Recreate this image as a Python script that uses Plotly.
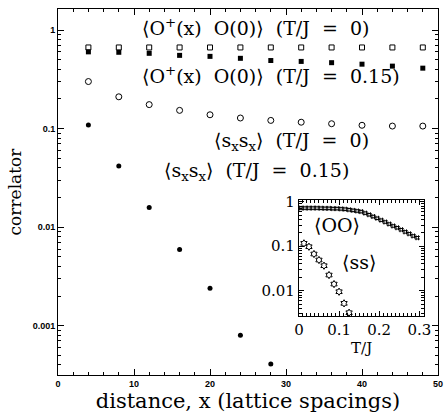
import plotly.graph_objects as go

# Main panel data
x_dist = [4, 8, 12, 16, 20, 24, 28, 32, 36, 40, 44, 48]
oo_T0 = [0.665, 0.665, 0.665, 0.665, 0.665, 0.665, 0.665, 0.665, 0.665, 0.665, 0.665, 0.665]
oo_T015 = [0.60, 0.594, 0.58, 0.553, 0.54, 0.516, 0.49, 0.48, 0.466, 0.45, 0.43, 0.41]
ss_T0 = [0.30, 0.21, 0.175, 0.153, 0.138, 0.128, 0.121, 0.116, 0.112, 0.108, 0.106, 0.106]
x_ss015 = [4, 8, 12, 16, 20, 24, 28]
ss_T015 = [0.109, 0.0416, 0.0158, 0.00594, 0.0024, 0.00080, 0.00041]

# Inset data
T_oo = [0.005, 0.015, 0.025, 0.035, 0.045, 0.055, 0.065, 0.075, 0.085, 0.095,
        0.105, 0.115, 0.125, 0.135, 0.145, 0.155, 0.165, 0.175, 0.185, 0.195,
        0.205, 0.215, 0.225, 0.235, 0.245, 0.255, 0.265, 0.275, 0.285, 0.295]
oo_inset = [0.72, 0.72, 0.72, 0.72, 0.72, 0.715, 0.71, 0.71, 0.70, 0.70,
            0.69, 0.68, 0.66, 0.64, 0.62, 0.60, 0.555, 0.51, 0.465, 0.425,
            0.385, 0.35, 0.315, 0.285, 0.26, 0.235, 0.21, 0.19, 0.17, 0.155]
T_ss = [0.0125, 0.025, 0.0375, 0.05, 0.0625, 0.075, 0.0875, 0.1, 0.1125, 0.125]
ss_inset = [0.116, 0.0975, 0.0668, 0.049, 0.0365, 0.0225, 0.0141, 0.0095, 0.0052, 0.0032]

main_yticks = [0.001, 0.01, 0.1, 1]
main_yticklabels = ["0.001", "0.01", "0.1", "1"]
inset_yticks = [0.01, 0.1, 1]
inset_yticklabels = ["0.01", "0.1", "1"]
inset_xticks = [0, 0.1, 0.2, 0.3]
inset_xticklabels = ["0", "0.1", "0.2", "0.3"]

SERIF = "DejaVu Serif"
TICKFONT = dict(family="Liberation Sans", size=9, color="black", weight="bold")

fig = go.Figure()
fig.add_trace(go.Scatter(x=x_dist, y=oo_T0, mode="markers",
                         marker=dict(symbol="square-open", size=5, color="black", line=dict(width=1))))
fig.add_trace(go.Scatter(x=x_dist, y=oo_T015, mode="markers",
                         marker=dict(symbol="square", size=5, color="black")))
fig.add_trace(go.Scatter(x=x_dist, y=ss_T0, mode="markers",
                         marker=dict(symbol="circle-open", size=6, color="black", line=dict(width=1))))
fig.add_trace(go.Scatter(x=x_ss015, y=ss_T015, mode="markers",
                         marker=dict(symbol="circle", size=5, color="black")))
fig.add_trace(go.Scatter(x=T_oo, y=oo_inset, mode="markers", xaxis="x2", yaxis="y2",
                         marker=dict(symbol="hash-open", size=5, color="black", line=dict(width=1))))
fig.add_trace(go.Scatter(x=T_ss, y=ss_inset, mode="markers", xaxis="x2", yaxis="y2",
                         marker=dict(symbol="hexagram-open", size=5.5, color="black", line=dict(width=1))))

common = dict(showgrid=False, zeroline=False, showline=True, linecolor="black", linewidth=1,
              mirror="allticks", ticks="inside", tickcolor="black", automargin=False)

fig.update_layout(
    width=445, height=419,
    margin=dict(l=58, r=7, t=9, b=44),
    paper_bgcolor="white", plot_bgcolor="white",
    showlegend=False,
    xaxis=dict(range=[0, 50], tickvals=[0, 10, 20, 30, 40, 50], ticklen=6,
               tickfont=TICKFONT,
               minor=dict(ticks="inside", dtick=2, ticklen=3, tickcolor="black"),
               title=dict(text="distance, x (lattice spacings)", font=dict(family=SERIF, size=21, color="black"), standoff=5),
               **common),
    yaxis=dict(type="log", range=[-3.5, 0.213], tickvals=main_yticks, ticktext=main_yticklabels, ticklen=6,
               tickfont=TICKFONT,
               minor=dict(ticks="inside", dtick="D1", ticklen=3, tickcolor="black"),
               title=dict(text="correlator", font=dict(family=SERIF, size=17, color="black"), standoff=6),
               **common),
    xaxis2=dict(domain=[0.634, 0.964], anchor="y2", range=[0, 0.3125],
                tickvals=inset_xticks, ticktext=inset_xticklabels, ticklen=5,
                tickfont=dict(family=SERIF, size=15, color="black"),
                minor=dict(ticks="inside", dtick=0.01, ticklen=3, tickcolor="black"),
                title=dict(text="T/J", font=dict(family=SERIF, size=15, color="black"), standoff=4),
                **common),
    yaxis2=dict(domain=[0.161, 0.478], anchor="x2", type="log", range=[-2.57, 0.038],
                tickvals=inset_yticks, ticktext=inset_yticklabels, ticklen=5,
                tickfont=dict(family=SERIF, size=15, color="black"),
                minor=dict(ticks="inside", dtick="D1", ticklen=3, tickcolor="black"),
                **common),
)

ann_font = dict(family=SERIF, size=19, color="black")
anns = [
    ("⟨O<sup>+</sup>(x)  O(0)⟩  (T/J  =  0)", 0.52, 0.951),
    ("⟨O<sup>+</sup>(x)  O(0)⟩  (T/J  =  0.15)", 0.56, 0.820),
    ("⟨s<sub>x</sub>s<sub>x</sub>⟩  (T/J  =  0)", 0.615, 0.637),
    ("⟨s<sub>x</sub>s<sub>x</sub>⟩  (T/J  =  0.15)", 0.523, 0.557),
    ("⟨OO⟩", 0.734, 0.410),
    ("⟨ss⟩", 0.792, 0.309),
]
for t, xp, yp in anns:
    fig.add_annotation(text=t, x=xp, y=yp, xref="paper", yref="paper", showarrow=False,
                       font=ann_font, xanchor="center", yanchor="middle")

fig.write_html("out.html", config={"displayModeBar": False},
               post_script="document.body.style.margin='0px';document.body.style.overflow='hidden';")
